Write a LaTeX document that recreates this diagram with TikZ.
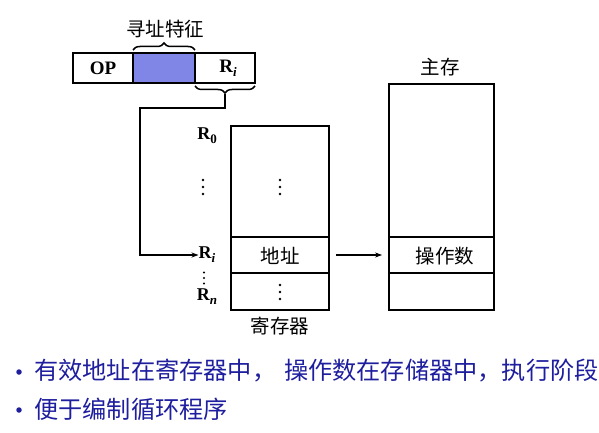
\documentclass[tikz,border=0pt]{standalone}
\usepackage{fontspec}
\setmainfont{Liberation Serif}
\newfontfamily\cjk{Noto Sans CJK SC}
\usetikzlibrary{arrows.meta,decorations.pathreplacing}
\definecolor{cellblue}{HTML}{7F86E6}
\definecolor{textblue}{HTML}{1E1E9E}
\tikzset{
  cell/.style={draw=black,line width=1.8pt,rectangle,inner sep=0pt,anchor=center},
  lbl/.style={inner sep=0pt,font=\bfseries\fontsize{19}{19}\selectfont},
  rlbl/.style={inner sep=0pt,font=\bfseries\fontsize{18}{18}\selectfont},
  cn/.style={inner sep=0pt,font=\cjk\fontsize{19.5}{19.5}\selectfont},
  bul/.style={inner sep=0pt,anchor=west,text=textblue,font=\cjk\fontsize{24.2}{24.2}\selectfont},
  bdot/.style={circle,fill=textblue,inner sep=0pt,minimum size=5.5pt},
  conn/.style={line width=1.3pt,-{Stealth[length=7pt,width=5pt]}},
  brc/.style={line width=1.5pt,decorate,decoration={brace,amplitude=7pt}},
  vd/.pic={\foreach \k in {-7,0,7} \fill (0,\k) circle (1.4pt);}
}
\newcommand{\Rs}[1]{R\raisebox{-4pt}{\fontsize{13}{13}\selectfont\bfseries #1}}
\begin{document}
\begin{tikzpicture}[x=1pt,y=-1pt]
\useasboundingbox (0,0) rectangle (599,433);
% instruction
\node[cell,minimum width=60pt,minimum height=30pt] (op) at (103,68) {};
\node[lbl] (optext) at (op) {OP};
\node[cell,fill=cellblue,minimum width=62pt,minimum height=30pt] (ad) at (164,68) {};
\node[cell,minimum width=60pt,minimum height=30pt] (ri) at (225,68) {};
\node[lbl] (ritext) at (228,68) {\Rs{\itshape i}};
\draw[brc] (133,50) -- (195,50);
\node[cn] (feat) at (165,29) {寻址特征};
\draw[brc] (255,86) -- (195,86);
\coordinate (bt) at (225,94);
\coordinate (c1) at (140,108);
% registers
\node[cell,minimum width=98pt,minimum height=111pt] (rtop) at (280,181.5) {};
\node[cell,minimum width=98pt,minimum height=36pt] (raddr) at (280,255) {};
\node[cell,minimum width=98pt,minimum height=37pt] (rbot) at (280,291.5) {};
\node[cn] (addrtext) at (280,256) {地址};
\pic at (280,187) {vd};
\pic at (280,292) {vd};
\node[cn] (regname) at (280,326) {寄存器};
\node[rlbl] (r0) at (207,136) {\Rs{0}};
\pic at (203,187) {vd};
\node[rlbl] (rri) at (207,255) {\Rs{\itshape i}};
\pic[scale=0.8] at (204,278) {vd};
\node[rlbl] (rn) at (207,297) {\Rs{\itshape n}};
% memory
\node[cell,minimum width=105pt,minimum height=153pt] (mtop) at (441.5,160.5) {};
\node[cell,minimum width=105pt,minimum height=36pt] (mop) at (441.5,255) {};
\node[cell,minimum width=105pt,minimum height=37pt] (mbot) at (441.5,291.5) {};
\node[cn] (optxt) at (445,256) {操作数};
\node[cn] (mname) at (440,67) {主存};
% connectors
\draw[conn] (bt) |- (c1) |- (rri.west);
\draw[conn,shorten <=6pt,shorten >=6pt] (raddr.east) -- (mop.west);
% bullets
\node[bdot] (d1) at (19,372) {};
\node[bul] (b1) at (34,371) {有效地址在寄存器中，\hspace{8pt}操作数在存储器中，执行阶段};
\node[bdot] (d2) at (19,410) {};
\node[bul] (b2) at (34,409) {便于编制循环程序};
\end{tikzpicture}
\end{document}
